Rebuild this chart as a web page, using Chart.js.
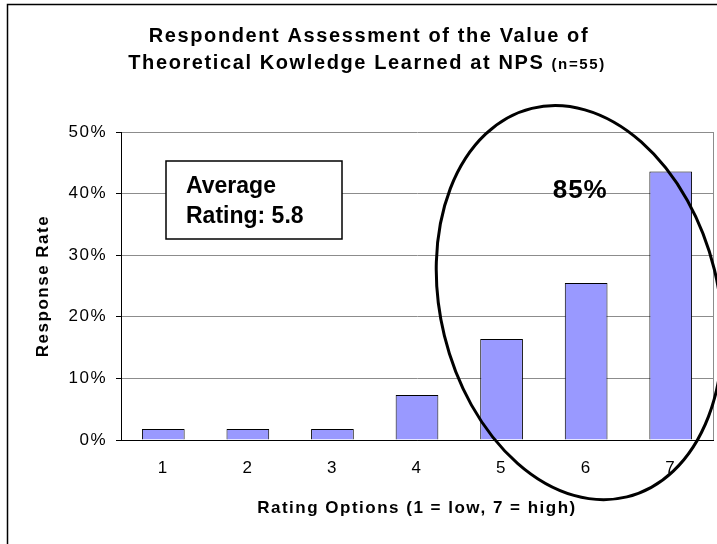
<!DOCTYPE html>
<html>
<head>
<meta charset="utf-8">
<script src="https://cdn.jsdelivr.net/npm/chart.js@4/dist/chart.umd.min.js"></script>
<style>
  html, body { margin: 0; padding: 0; background: #fff; }
  canvas { display: block; }
</style>
</head>
<body>
<canvas id="ratingChart" width="717" height="544"></canvas>
<script>
// data
const ratingLabels = ['1', '2', '3', '4', '5', '6', '7'];
const responseRates = [1.8, 1.8, 1.8, 7.3, 16.4, 25.5, 43.6];
const yMax = 50;
const yStep = 10;

const titleLine1 = 'Respondent Assessment of the Value of';
const titleLine2 = 'Theoretical Kowledge Learned at NPS ';
const titleNote = '(n=55)';
const avgBoxLines = ['Average', 'Rating: 5.8'];
const highlightText = '85%';

const fontFamily = '"Liberation Sans", Arial, sans-serif';

// extra drawing: frame, title, average box, 85% ellipse
const extras = {
    id: 'extras',
    beforeDraw(chart) {
        const ctx = chart.ctx;
        ctx.letterSpacing = '1.5px';
        ctx.save();
        ctx.strokeStyle = '#000';
        ctx.lineWidth = 1.5;
        ctx.beginPath();
        ctx.moveTo(7.5, chart.height);
        ctx.lineTo(7.5, 4.5);
        ctx.lineTo(chart.width, 4.5);
        ctx.stroke();
        ctx.restore();
    },
    afterDraw(chart) {
        const ctx = chart.ctx;
        const area = chart.chartArea;
        const xs = chart.scales.x;
        const ys = chart.scales.y;

        // title
        ctx.save();
        ctx.fillStyle = '#000';
        ctx.textBaseline = 'alphabetic';
        ctx.letterSpacing = '1.6px';
        ctx.font = 'bold 20px ' + fontFamily;
        ctx.textAlign = 'center';
        ctx.fillText(titleLine1, 369, 42);
        const w1 = ctx.measureText(titleLine2).width;
        ctx.font = 'bold 15px ' + fontFamily;
        const w2 = ctx.measureText(titleNote).width;
        let sx = 367 - (w1 + w2) / 2;
        ctx.textAlign = 'left';
        ctx.font = 'bold 20px ' + fontFamily;
        ctx.fillText(titleLine2, sx, 69);
        ctx.font = 'bold 15px ' + fontFamily;
        ctx.fillText(titleNote, sx + w1, 69);
        ctx.restore();

        // average rating box
        ctx.save();
        const bx = area.left + 45, by = area.top + 29;
        ctx.fillStyle = '#fff';
        ctx.fillRect(bx, by, 176, 78);
        ctx.strokeStyle = '#000';
        ctx.lineWidth = 1.5;
        ctx.strokeRect(bx, by, 176, 78);
        ctx.fillStyle = '#000';
        ctx.letterSpacing = '0px';
        ctx.font = 'bold 23px ' + fontFamily;
        ctx.textAlign = 'left';
        ctx.fillText(avgBoxLines[0], bx + 20, by + 32);
        ctx.fillText(avgBoxLines[1], bx + 20, by + 62);
        ctx.restore();

        // 85% label and ellipse around ratings 5-7
        ctx.save();
        ctx.fillStyle = '#000';
        ctx.letterSpacing = '1px';
        ctx.font = 'bold 26px ' + fontFamily;
        ctx.textAlign = 'center';
        ctx.textBaseline = 'middle';
        ctx.fillText(highlightText, xs.getPixelForValue(4.93), ys.getPixelForValue(40.5));

        ctx.strokeStyle = '#000';
        ctx.lineWidth = 3;
        ctx.beginPath();
        ctx.ellipse(xs.getPixelForValue(4.92), ys.getPixelForValue(22.3), 139, 200, -0.24, 0, Math.PI * 2);
        ctx.stroke();
        ctx.restore();
    }
};

const ctx = document.getElementById('ratingChart').getContext('2d');

new Chart(ctx, {
    type: 'bar',
    data: {
        labels: ratingLabels,
        datasets: [{
            label: 'Response Rate',
            data: responseRates,
            backgroundColor: '#9999ff',
            borderColor: '#000',
            borderWidth: 1,
            categoryPercentage: 1,
            barPercentage: 0.505
        }]
    },
    options: {
        responsive: false,
        animation: false,
        devicePixelRatio: 1,
        layout: {
            padding: { top: 132, right: 4, bottom: 25, left: 0 }
        },
        plugins: {
            legend: { display: false },
            title: { display: false },
            tooltip: { enabled: false }
        },
        scales: {
            x: {
                type: 'category',
                offset: true,
                grid: {
                    display: true,
                    drawTicks: false,
                    offset: true,
                    color: (c) => (c.index === undefined ? '#8c8c8c' : 'rgba(0,0,0,0)')
                },
                border: { display: true, color: '#000', width: 1 },
                ticks: {
                    color: '#000',
                    padding: 18,
                    font: { family: fontFamily, size: 17 }
                },
                title: {
                    display: true,
                    text: 'Rating Options (1 = low, 7 = high)',
                    color: '#000',
                    padding: 0,
                    font: { family: fontFamily, size: 17, weight: 'bold' }
                },
                afterFit: (s) => { s.height = 79; }
            },
            y: {
                min: 0,
                max: yMax,
                ticks: {
                    stepSize: yStep,
                    color: '#000',
                    padding: 9,
                    font: { family: fontFamily, size: 17 },
                    callback: (v) => v + '%'
                },
                grid: {
                    color: (c) => (c.tick && c.tick.value === 0 ? '#000' : '#8c8c8c'),
                    tickColor: '#000',
                    tickLength: 5,
                    lineWidth: 1
                },
                border: { display: true, color: '#000', width: 1 },
                title: {
                    display: true,
                    text: 'Response Rate',
                    color: '#000',
                    padding: { top: 33, bottom: 0 },
                    font: { family: fontFamily, size: 17, weight: 'bold' }
                },
                afterFit: (s) => { s.width = 121; }
            }
        }
    },
    plugins: [extras]
});
</script>
</body>
</html>
